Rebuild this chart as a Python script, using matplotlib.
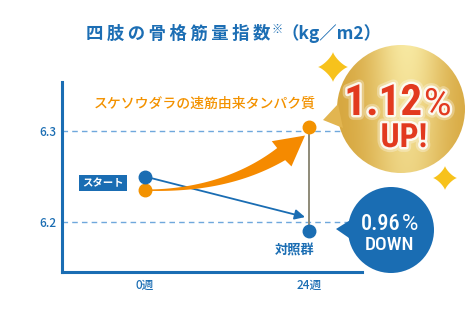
import numpy as np
import matplotlib.pyplot as plt
import matplotlib.patheffects as pe
from matplotlib.patches import Circle, Polygon, Rectangle
from matplotlib.transforms import IdentityTransform

plt.rcParams['font.family'] = ['Noto Sans CJK JP', 'DejaVu Sans']

# 四肢の骨格筋量指数（kg/m2）
weeks = ['0週', '24週']
protein = [6.235, 6.305]   # スケソウダラの速筋由来タンパク質
control = [6.25, 6.19]     # 対照群
yticks = [6.2, 6.3]

up_pct = (protein[1] / protein[0] - 1) * 100
down_pct = (1 - control[1] / control[0]) * 100

BLUE = '#1a6db3'
ORANGE = '#f39200'
RED = '#e23a1f'
W, H = 468, 322

fig = plt.figure(figsize=(W / 100, H / 100), dpi=100)
ax = fig.add_axes([62 / W, 50 / H, 300 / W, 190 / H])
xs = np.arange(len(weeks))
ax.set_xlim(-0.506, 1.323)
ax.set_ylim(6.145, 6.354)
ax.set_xticks(xs, weeks)
ax.set_yticks(yticks, [f'{v:.1f}' for v in yticks])
ax.tick_params(length=0, colors=BLUE, labelsize=8.5)
for lab in ax.get_xticklabels() + ax.get_yticklabels():
    lab.set_fontweight('medium')
ax.tick_params(axis='y', pad=4)
ax.tick_params(axis='x', pad=5)
for s in ['top', 'right']:
    ax.spines[s].set_visible(False)
for s in ['left', 'bottom']:
    ax.spines[s].set_color(BLUE)
    ax.spines[s].set_linewidth(2.2)
for v in yticks:
    ax.axhline(v, color='#6fa8dc', lw=1, dashes=(4, 3), zorder=1)

ax.plot([xs[1]] * 2, [control[1], protein[1]], color='#8e8a78', lw=1.4, zorder=2)
ax.plot(xs, protein, 'o', color=ORANGE, ms=9, zorder=6)
ax.plot(xs, control, 'o', color=BLUE, ms=9, zorder=6)


def disp(x, y):
    return ax.transData.transform((x, y))


# 対照群の矢印
c0 = disp(xs[0], control[0])
c1 = disp(xs[1], control[1]) + np.array([-4, 14])
ax.annotate('', xy=c1, xytext=c0, xycoords='figure pixels', textcoords='figure pixels',
            arrowprops=dict(arrowstyle='-|>,head_length=0.6,head_width=0.3', color=BLUE,
                            lw=1.3, shrinkA=0, shrinkB=0), zorder=3)

# タンパク質群の太い曲線矢印（だんだん太くなる）
S = disp(xs[0], protein[0]) + np.array([5, 0])
T = disp(xs[1], protein[1]) + np.array([-4, -9])
C = np.array([S[0] + 0.61 * (T[0] - S[0]), S[1]])
t = np.linspace(0, 1, 300)[:, None]
P = (1 - t) ** 2 * S + 2 * (1 - t) * t * C + t ** 2 * T
seg = np.r_[0, np.cumsum(np.hypot(*np.diff(P, axis=0).T))]
head_len, head_w = 30, 16
nb = np.searchsorted(seg, seg[-1] - head_len)
shaft = P[:nb]
d = np.gradient(shaft, axis=0)
d /= np.hypot(d[:, 0], d[:, 1])[:, None]
n = np.c_[-d[:, 1], d[:, 0]]
w = 1.5 + 13 * (seg[:nb] / seg[nb - 1]) ** 1.4
left = shaft + n * w[:, None] / 2
right = shaft - n * w[:, None] / 2
base = P[nb]
hd = (T - base) / np.hypot(*(T - base))
hn = np.array([-hd[1], hd[0]])
pts = np.vstack([left, base + hn * head_w, T, base - hn * head_w, right[::-1]])
ax.add_patch(Polygon(pts, closed=True, color='#f58a00', lw=0,
                     transform=IdentityTransform(), clip_on=False, zorder=4))

# 装飾用のピクセル座標レイヤー
ov = fig.add_axes([0, 0, 1, 1], zorder=3)
ov.set_xlim(0, W)
ov.set_ylim(H, 0)
ov.axis('off')
renderer = fig.canvas.get_renderer()


def put(x, y, s, **kw):
    txt = ov.text(x, y, s, **kw)
    return txt.get_window_extent(renderer).x1


# タイトル
TITLE = '#1c6eb4'
x = put(86, 38.5, '\u2009'.join('四肢の骨格筋量指数'), va='baseline', fontsize=12.5,
        weight='bold', color=TITLE)
x = put(x + 1, 33, '※', va='baseline', fontsize=8, weight='bold', color=TITLE)
put(x - 1, 38.5, '（kg／m2）', va='baseline', fontsize=12.5, weight='bold', color=TITLE)

# ラベル
ov.text(316, 104, 'スケソウダラの速筋由来タンパク質', ha='right', va='center',
        fontsize=10, weight='medium', color=ORANGE)
px0 = disp(xs[0], 0)[0]
sy = H - (disp(0, control[0])[1] + disp(0, protein[0])[1]) / 2
ov.add_patch(Rectangle((px0 - 66, sy - 8), 48, 16, color=BLUE, lw=0))
ov.text(px0 - 42, sy, 'スタート', ha='center', va='center', fontsize=7.5,
        weight='bold', color='white')
px1 = disp(xs[1], 0)[0]
ov.text(px1 - 14, 251, '対照群', ha='center', va='center', fontsize=9.5,
        weight='bold', color=BLUE)

# 金色の吹き出し
gx, gy, gr = 401, 109, 64
ov.add_patch(Polygon([[338, 104], [323, 120], [343, 128]], color='#e2b550', lw=0))
u = np.linspace(-1, 1, 240)
U, V = np.meshgrid(u, u)
light = np.array([0.97, 0.91, 0.63])
dark = np.array([0.84, 0.65, 0.24])
f = np.exp(-((U - 0.1) / 0.6) ** 2) * (1 - 0.3 * (V + 1) / 2)
img = dark + (light - dark) * f[..., None]
im = ov.imshow(img, extent=(gx - gr, gx + gr, gy + gr, gy - gr), aspect='auto',
               interpolation='bilinear')
circ = Circle((gx, gy), gr, transform=ov.transData, fc='none', lw=0)
ov.add_patch(circ)
im.set_clip_path(circ)
ov.set_xlim(0, W)
ov.set_ylim(H, 0)

glow = [pe.Stroke(linewidth=7, foreground='white', alpha=0.3),
        pe.Stroke(linewidth=3.5, foreground='white', alpha=0.85), pe.Normal()]
num_font = ['Roboto Condensed', 'Roboto', 'DejaVu Sans']
ov.text(422, 115, f'{up_pct:.2f}', ha='right', va='baseline', fontsize=31,
        weight='bold', color=RED, family=num_font, path_effects=glow)
ov.text(424, 115, '%', ha='left', va='baseline', fontsize=27, weight='normal',
        color=RED, family=['Roboto', 'DejaVu Sans'], path_effects=glow)
ov.text(404, 147, 'UP!', ha='center', va='baseline', fontsize=24, weight='bold',
        color=RED, family=num_font, path_effects=glow)

# 青の吹き出し
bx, by, br = 391, 230, 43
ov.add_patch(Polygon([[352, 219], [336, 229], [352, 240]], color=BLUE, lw=0))
ov.add_patch(Circle((bx, by), br, color=BLUE, lw=0))
ov.text(400, 230, f'{down_pct:.2f}', ha='right', va='baseline', fontsize=16,
        weight='medium', color='white', family=num_font)
ov.text(402, 230, '%', ha='left', va='baseline', fontsize=16, weight='normal',
        color='white', family=['Roboto', 'DejaVu Sans'])
ov.text(390, 250, 'DOWN', ha='center', va='baseline', fontsize=14, weight='medium',
        color='white', family=num_font)


# きらきら
def sparkle(cx, cy, r):
    a = np.linspace(0, 2 * np.pi, 200)
    c, s = np.cos(a), np.sin(a)
    k = 2.6
    return np.c_[cx + r * np.sign(c) * np.abs(c) ** k, cy + r * np.sign(s) * np.abs(s) ** k]


ov.add_patch(Polygon(sparkle(333, 67, 15), color='#f7c21c', lw=0))
ov.add_patch(Polygon(sparkle(445, 178, 12), color='#f7c21c', lw=0))

fig.savefig('out.png', dpi=100)
